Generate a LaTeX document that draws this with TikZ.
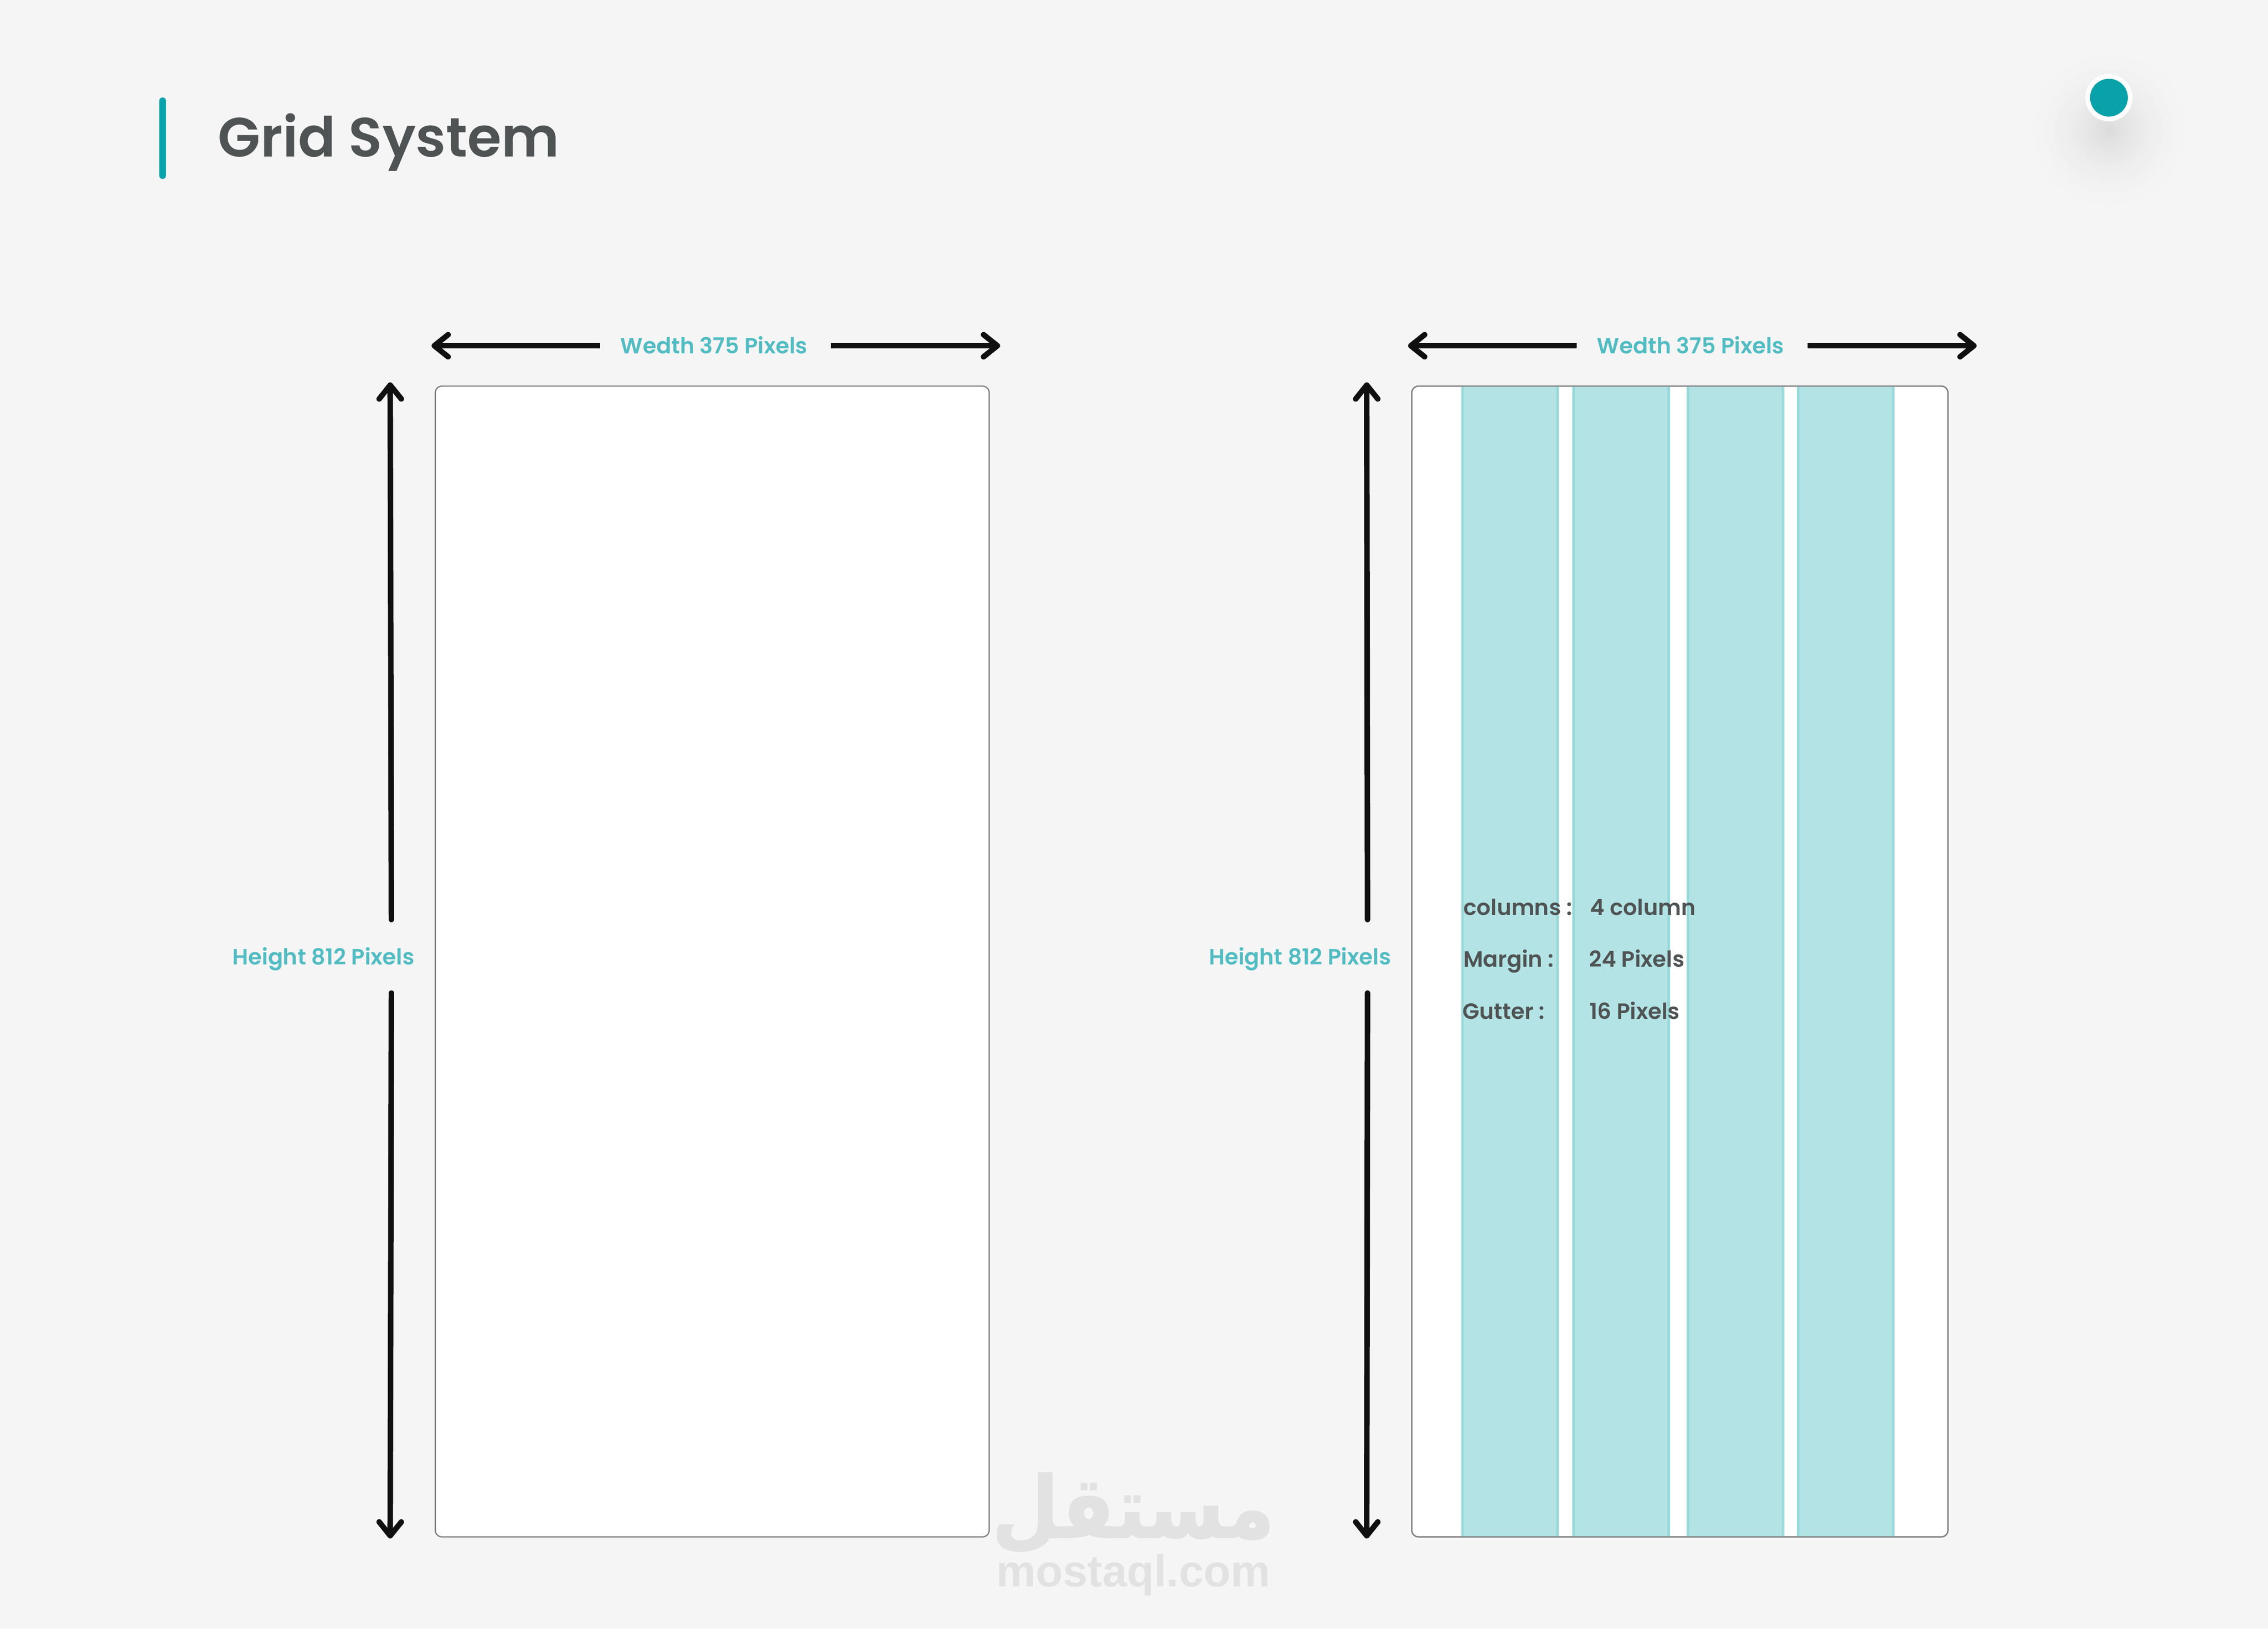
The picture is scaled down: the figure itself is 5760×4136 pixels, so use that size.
\documentclass[tikz,border=0pt]{standalone}
\usepackage{fontspec}
\usepackage{graphicx}
\usetikzlibrary{arrows.meta}
\setmainfont{Poppins}
\newfontfamily\pmed{Poppins SemiBold}
\newfontfamily\wmlatin{Liberation Sans}
\newfontfamily\arabicfont[Script=Arabic,FakeBold=1.5]{DejaVu Sans Bold}
\TeXXeTstate=1
\definecolor{bgc}{HTML}{F5F5F5}
\definecolor{shadowc}{HTML}{DADADA}
\definecolor{teal}{HTML}{09A2AA}
\definecolor{lbl}{HTML}{52BCC2}
\definecolor{ink}{HTML}{4F5354}
\definecolor{colfill}{HTML}{B3E3E4}
\definecolor{colline}{HTML}{98D8DA}
\definecolor{frameline}{HTML}{7C7C7C}
\definecolor{arrowc}{HTML}{101010}
\definecolor{wm}{HTML}{E2E2E2}
\tikzset{
  frame/.style={draw=frameline,line width=3*0.2845pt,rounded corners=17*0.2845pt,inner sep=0pt},
  colbox/.style={fill=colfill,draw=none,inner sep=0pt,minimum height=2921*0.2845pt,minimum width=249*0.2845pt,anchor=north west},
  colstripe/.style={colline,line width=5*0.2845pt},
  dim/.style={arrowc,line width=14*0.2845pt},
  dimhead/.style={-{Straight Barb[length=35*0.2845pt,width=56*0.2845pt,round]}},
  lab/.style={text=lbl,font=\pmed\fontsize{15.9}{20}\selectfont,inner sep=0pt,anchor=base west},
  spec/.style={text=ink,font=\pmed\fontsize{15.9}{20}\selectfont,inner sep=0pt,anchor=base west},
}
\begin{document}
\begin{tikzpicture}[x=0.01cm,y=-0.01cm]
\useasboundingbox (0,0) rectangle (5760,4136);
\fill[bgc] (0,0) rectangle (5760,4136);
% header
\draw[teal,line width=17*0.2845pt,line cap=round] (413,256) coordinate (barT) -- (413,446) coordinate (barB);
\node[text=ink,font=\pmed\fontsize{39.9}{46}\selectfont,inner sep=0pt,anchor=base west] (title) at (553,398) {Grid System};
\foreach \r in {230,222,...,6}{
  \pgfmathsetmacro\p{100*(1-(1-\r/230)^2)}
  \fill[bgc!\p!shadowc] (5356,330) circle (\r);
}
\fill[white] (5356,248) circle (60);
\fill[teal] (5356,248) circle (48);
% watermark
\node[text=wm,inner sep=0pt,anchor=south] (wmA) at (2878,3945) {\resizebox*{204pt}{58pt}{\arabicfont\beginR مستقل\endR}};
\node[text=wm,font=\wmlatin\bfseries\fontsize{32.1}{36}\selectfont,inner sep=0pt,anchor=base] (wmB) at (2878,4029) {mostaql.com};
% left frame
\node[frame,fill=white,minimum width=1406*0.2845pt,minimum height=2921*0.2845pt,anchor=north west] (f1) at (1104,979) {};
% right frame
\node[frame,fill=white,minimum width=1361*0.2845pt,minimum height=2921*0.2845pt,anchor=north west] (f2) at (3584,979) {};
\node[colbox] (c1) at (3710,979) {};
\node[colbox] (c2) at (3992,979) {};
\node[colbox] (c3) at (4282,979) {};
\node[colbox] (c4) at (4562,979) {};
\foreach \c in {c1,c2,c3,c4}{
  \draw[colstripe] ([xshift=5*0.2845pt]\c.north west) -- ([xshift=5*0.2845pt]\c.south west);
  \draw[colstripe] ([xshift=-5*0.2845pt]\c.north east) -- ([xshift=-5*0.2845pt]\c.south east);
}
\node[frame,minimum width=1361*0.2845pt,minimum height=2921*0.2845pt,anchor=north west] (f2b) at (3584,979) {};
% left dims
\node[lab] (w1) at (1575,898) {Wedth 375 Pixels};
\coordinate (w1L) at (1096,878); \coordinate (w1la) at (1524,878);
\coordinate (w1lb) at (2111,878); \coordinate (w1R) at (2540,878);
\draw[dim,dimhead] (w1la) -- (w1L);
\draw[dim,dimhead] (w1lb) -- (w1R);
\node[lab] (h1) at (590,2450) {Height 812 Pixels};
\coordinate (h1T) at (991,971); \coordinate (h1a) at (994,2335);
\coordinate (h1b) at (994,2522); \coordinate (h1B) at (991,3907);
\draw[dim,dimhead,line cap=round] (h1a) -- (h1T);
\draw[dim,dimhead,line cap=round] (h1b) -- (h1B);
% right dims
\node[lab] (w2) at (4055,898) {Wedth 375 Pixels};
\coordinate (w2L) at (3576,878); \coordinate (w2la) at (4004,878);
\coordinate (w2lb) at (4591,878); \coordinate (w2R) at (5020,878);
\draw[dim,dimhead] (w2la) -- (w2L);
\draw[dim,dimhead] (w2lb) -- (w2R);
\node[lab] (h2) at (3070,2450) {Height 812 Pixels};
\coordinate (h2T) at (3471,971); \coordinate (h2a) at (3473,2335);
\coordinate (h2b) at (3473,2522); \coordinate (h2B) at (3471,3907);
\draw[dim,dimhead,line cap=round] (h2a) -- (h2T);
\draw[dim,dimhead,line cap=round] (h2b) -- (h2B);
% specs
\node[spec] (s1) at (3716,2324) {columns :};
\node[spec] (v1) at (4038,2324) {4 column};
\node[spec] (s2) at (3716,2456) {Margin :};
\node[spec] (v2) at (4035,2456) {24 Pixels};
\node[spec] (s3) at (3714,2588) {Gutter :};
\node[spec] (v3) at (4036,2588) {16 Pixels};
\end{tikzpicture}
\end{document}
